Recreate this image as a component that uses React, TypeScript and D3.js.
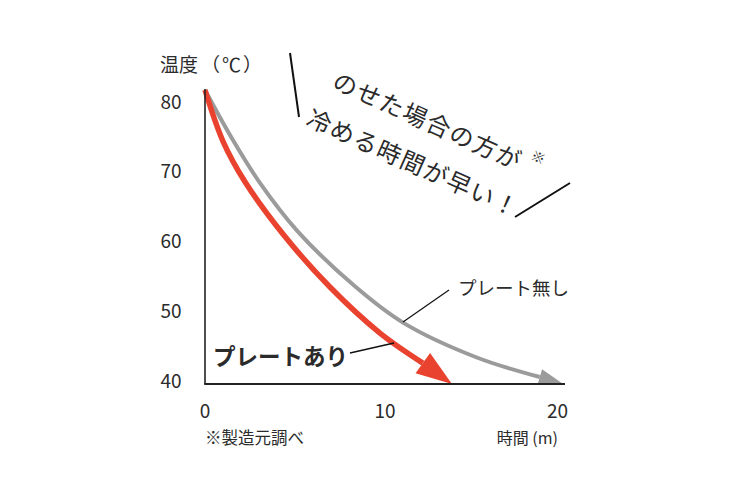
import React from "react";
import * as d3 from "d3";

const yTicks = [40, 50, 60, 70, 80];
const xTicks = [0, 10, 20];

// プレート無し (gray)
const noPlateTime = [0, 1.5, 3.06, 5.11, 8.33, 11, 15.1, 18.6, 19.9];
const noPlateTemp = [82.15, 75.2, 68.8, 62.0, 54.0, 48.8, 43.8, 41.0, 40];

// プレートあり (red)
const plateTime = [0, 1, 2.22, 4.33, 6.94, 9.72, 12.1, 13.72];
const plateTemp = [82.15, 74.8, 69.0, 61.5, 53.9, 47.3, 43.0, 40];

const JP = "'Noto Sans CJK JP', 'Noto Sans', sans-serif";
const RED = "#e9432f";
const GRAY = "#9b9b9b";
const TXT = "#2b2b2b";

export default function App() {
  const x = d3.scaleLinear().domain([0, 20]).range([205, 565]);
  const y = d3.scaleLinear().domain([40, 80]).range([384, 105]);

  const line = d3
    .line<[number, number]>()
    .x((d) => x(d[0]))
    .y((d) => y(d[1]))
    .curve(d3.curveCatmullRom.alpha(0.5));

  const toPts = (ts: number[], vs: number[]) => ts.map((t, i) => [t, vs[i]] as [number, number]);
  const grayPts = toPts(noPlateTime, noPlateTemp);
  const redPts = toPts(plateTime, plateTemp);

  const arrow = (pts: [number, number][], half: number) => {
    const b = pts[pts.length - 2];
    const t = pts[pts.length - 1];
    const bx = x(b[0]), by = y(b[1]), tx = x(t[0]), ty = y(t[1]);
    const dx = tx - bx, dy = ty - by;
    const len = Math.hypot(dx, dy);
    const nx = -dy / len, ny = dx / len;
    return `M${tx},${ty}L${bx + nx * half},${by + ny * half}L${bx - nx * half},${by - ny * half}Z`;
  };

  const ang = 24;

  return (
    <svg
      width={740}
      height={493}
      style={{ position: "absolute", left: 0, top: 0, background: "#fff" }}
    >
      {/* curves */}
      <path d={line(grayPts.slice(0, -1)) || ""} fill="none" stroke={GRAY} strokeWidth={4} />
      <path d={arrow(grayPts, 8)} fill={GRAY} />
      <path d={line(redPts.slice(0, -1)) || ""} fill="none" stroke={RED} strokeWidth={5.5} />
      <path d={arrow(redPts, 12.5)} fill={RED} />

      {/* axes */}
      <line x1={x(0)} x2={x(0)} y1={89} y2={y(40)} stroke="#222" strokeWidth={1.6} />
      <line x1={x(0) - 0.8} x2={x(20)} y1={y(40)} y2={y(40)} stroke="#222" strokeWidth={1.8} />

      {yTicks.map((v) => (
        <text
          key={v}
          x={171}
          y={y(v) - 5}
          textAnchor="middle"
          dominantBaseline="central"
          fontFamily={JP}
          fontSize={19}
          fill={TXT}
        >
          {v}
        </text>
      ))}
      {xTicks.map((v, i) => (
        <text
          key={v}
          x={i === xTicks.length - 1 ? x(v) + 3 : x(v)}
          y={409}
          textAnchor={i === xTicks.length - 1 ? "end" : "middle"}
          dominantBaseline="central"
          fontFamily={JP}
          fontSize={19}
          fill={TXT}
        >
          {v}
        </text>
      ))}

      <text x={160} y={63} dominantBaseline="central" fontFamily={JP} fontSize={19} fill={TXT}>
        温度<tspan dx={3}>（</tspan><tspan dx={2}>℃</tspan><tspan dx={2}>）</tspan>
      </text>
      <text x={205} y={437} dominantBaseline="central" fontFamily={JP} fontSize={16.5} fill={TXT}>
        ※製造元調べ
      </text>
      <text x={558} y={437} textAnchor="end" dominantBaseline="central" fontFamily={JP} fontSize={16} fill={TXT}>
        時間 (m)
      </text>

      {/* labels */}
      <text x={213} y={355} dominantBaseline="central" fontFamily={JP} fontSize={22.5} fontWeight="bold" fill={TXT}>
        プレートあり
      </text>
      <line x1={350} y1={353} x2={394} y2={343} stroke="#111" strokeWidth={1.3} />
      <text x={458} y={287} dominantBaseline="central" fontFamily={JP} fontSize={18.5} fill={TXT}>
        プレート無し
      </text>
      <line x1={403} y1={322} x2={449} y2={290} stroke="#111" strokeWidth={1.3} />

      {/* callout */}
      <line x1={290} y1={53} x2={299} y2={117} stroke="#111" strokeWidth={2} />
      <line x1={515} y1={217} x2={570} y2={183} stroke="#111" strokeWidth={2} />
      <text
        x={335}
        y={78}
        transform={`rotate(${ang},335,78)`}
        dominantBaseline="central"
        fontFamily={JP}
        fontSize={24}
        fill={TXT}
        letterSpacing={1.5}
      >
        のせた場合の方が
        <tspan fontSize={14} dx={7} dy={-11}>※</tspan>
      </text>
      <text
        x={309}
        y={115}
        transform={`rotate(${ang},309,115)`}
        dominantBaseline="central"
        fontFamily={JP}
        fontSize={24}
        fill={TXT}
        letterSpacing={1.5}
      >
        冷める時間が早い！
      </text>
    </svg>
  );
}
